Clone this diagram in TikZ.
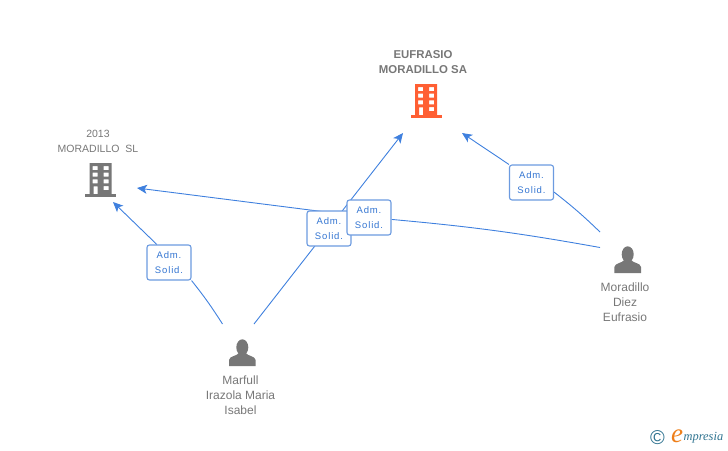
\documentclass[tikz,border=0pt]{standalone}
\usepackage{fontspec}
\usepackage{tikz}
\usetikzlibrary{arrows.meta,backgrounds}
\setmainfont{Liberation Sans}
\newfontfamily\adsfont[LetterSpace=9]{Liberation Sans}
\newfontfamily\logofont{Liberation Serif}
\definecolor{linkblue}{HTML}{3F80DE}
\definecolor{boxblue}{HTML}{6C9BE0}
\definecolor{textblue}{HTML}{3576D2}
\definecolor{namegrey}{HTML}{777777}
\definecolor{redco}{HTML}{FF5F33}
\definecolor{logoteal}{HTML}{2F7390}
\definecolor{logoorange}{HTML}{EE7F1A}

\begin{document}
\begin{tikzpicture}[x=1pt,y=-1pt,
  link/.style={draw=linkblue,line width=0.9pt},
  arrowlink/.style={link,-{Stealth[length=10pt,width=9pt,inset=2.5pt]}},
  adm/.style={draw=boxblue,line width=1.1pt,fill=white,rounded corners=2.5pt,
    minimum width=44pt,minimum height=35pt,inner sep=0pt,align=center,
    text=textblue,font=\adsfont\fontsize{9.5}{15}\selectfont},
  personname/.style={align=center,text=namegrey,font=\fontsize{12}{15}\selectfont},
  company/.style={align=center,text=namegrey,font=\fontsize{10.5}{15}\selectfont},
  building/.pic={
    \fill[even odd rule,pic actions] (-11,-34) rectangle (11,-3)
      (-8,-31) rectangle (-3,-27) (3,-31) rectangle (8,-27)
      (-8,-24.3) rectangle (-3,-20.3) (3,-24.3) rectangle (8,-20.3)
      (-8,-17.7) rectangle (-3,-13.7) (3,-17.7) rectangle (8,-13.7)
      (-7,-10.7) rectangle (-3,-3) (3,-11) rectangle (8,-7);
    \fill[pic actions] (-15.5,-3) rectangle (15.5,0);
  },
  person/.pic={
    \fill[pic actions] (0,-18.7) ellipse (6 and 8);
    \fill[pic actions] (-13.3,0) -- (-13.3,-6) .. controls (-13,-10) and (-5,-10) .. (-3.5,-13)
      -- (3.5,-13) .. controls (5,-10) and (13,-10) .. (13.3,-6) -- (13.3,0) -- cycle;
  }]
\useasboundingbox (0,0) rectangle (728,450);

% companies
\node [company,font=\bfseries\fontsize{11.4}{15}\selectfont] (eufrasio) at (423,62.5) {EUFRASIO\\MORADILLO SA};
\pic [fill=redco] at (426,118) {building};
\node [company] (sl2013) at (98,141.5) {2013\\MORADILLO\ \ SL};
\pic [fill=namegrey] at (100.5,197) {building};

% people
\pic [fill=namegrey] at (242.3,366) {person};
\node [personname] (marfull) at (240.5,395) {Marfull\\Irazola Maria\\Isabel};
\pic [fill=namegrey] at (627.7,273) {person};
\node [personname] (moradillo) at (625,302) {Moradillo\\Diez\\Eufrasio};

% free ends of the links
\coordinate (marfullA) at (222.5,324);
\coordinate (marfullB) at (254,324);
\coordinate (moraA) at (600,232);
\coordinate (moraB) at (600,247.5);
\coordinate (tipSlA) at (113,202);
\coordinate (tipSlB) at (137,188);
\coordinate (tipSaA) at (403,133);
\coordinate (tipSaB) at (462,133);

% Adm. Solid. boxes
\node [adm] (admA) at (169,262.5) {Adm.\\Solid.};
\node [adm] (admB) at (329,228.5) {Adm.\\Solid.};
\node [adm] (admC) at (369,217.5) {Adm.\\Solid.};
\node [adm] (admD) at (531.5,182.5) {Adm.\\Solid.};

\begin{pgfonlayer}{background}
\draw [link] (marfullA) to[bend right=3] (admA.south east);
\draw [arrowlink] (admA.124) -- (tipSlA);
\draw [arrowlink] (marfullB) -- (tipSaA);
\draw [link] (moraA) to[bend right=3] (admD.-23);
\draw [arrowlink] (admD.north west) -- (tipSaB);
\draw [link] (moraB) to[bend right=2.5] (admC);
\draw [arrowlink] (admC) -- (tipSlB);
\end{pgfonlayer}

% logo
\node [inner sep=0pt,text=logoteal,font=\fontsize{20}{20}\selectfont] (copyr) at (657.5,438) {\textcopyright};
\node [inner sep=0pt,text=logoorange,font=\logofont\itshape\fontsize{27}{27}\selectfont] (logoe) at (677,436) {e};
\node [inner sep=0pt,anchor=west,text=logoteal,font=\logofont\itshape\fontsize{12.4}{14}\selectfont] (logotxt) at (683.5,438) {mpresia};
\end{tikzpicture}
\end{document}
